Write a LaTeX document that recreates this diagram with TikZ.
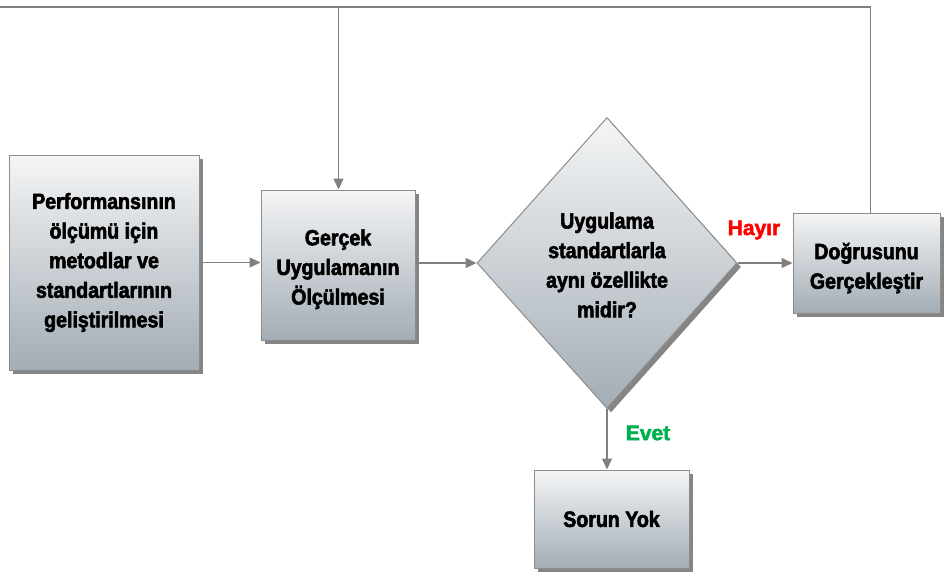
\documentclass[tikz,border=0pt]{standalone}
\usepackage{fontspec}
\setmainfont{Liberation Sans}[BoldFeatures={FakeBold=2.4}]
\newfontfamily\narrowfont{Liberation Sans}[BoldFeatures={FakeBold=2.6,FakeStretch=0.89}]
\usetikzlibrary{shapes.geometric,shadows,arrows.meta}
\definecolor{gtop}{HTML}{F4F5F6}
\definecolor{gbot}{HTML}{A3ADB5}
\definecolor{edge}{HTML}{8C8C8C}
\definecolor{arrc}{HTML}{808080}
\definecolor{hayir}{HTML}{FF0000}
\definecolor{evet}{HTML}{00B050}
\newcommand\lowered[2]{\raisebox{-#1}[\height][\depth]{\begin{tabular}{@{}c@{}}#2\end{tabular}}}
\tikzset{
  boxstyle/.style={draw=edge, line width=1pt, top color=gtop, bottom color=gbot,
    drop shadow={shadow xshift=4pt, shadow yshift=-4pt, fill=black!80, opacity=0.6},
    inner sep=0pt, align=center, font=\narrowfont\fontsize{22}{29.6}\selectfont\bfseries},
  diastyle/.style={shape=diamond, draw=edge, line width=1pt, top color=gtop, bottom color=gbot,
    drop shadow={shadow xshift=4pt, shadow yshift=-4pt, fill=black!80, opacity=0.6},
    inner sep=0pt, minimum width=260pt, minimum height=291pt},
  txt/.style={align=center, font=\narrowfont\fontsize{22}{29.6}\selectfont\bfseries},
  lbl/.style={font=\fontsize{21}{24}\selectfont\bfseries},
  arr/.style={draw=arrc, line width=1.5pt, -{Triangle[length=11pt,width=10pt]}, arrc}
}
\begin{document}
\begin{tikzpicture}[x=1pt,y=-1pt]
\useasboundingbox (0,0) rectangle (944,578);
\node[boxstyle, minimum width=190pt, minimum height=215pt] (p) at (104,262.5)
  {Performansının\\ölçümü için\\metodlar ve\\standartlarının\\geliştirilmesi};
\node[boxstyle, minimum width=154pt, minimum height=150pt] (m) at (338,265)
  {\lowered{4pt}{Gerçek\\Uygulamanın\\Ölçülmesi}};
\node[diastyle] (d) at (607,263) {};
\node[txt] (dt) at (607,265) {Uygulama\\standartlarla\\aynı özellikte\\midir?};
\node[boxstyle, minimum width=147pt, minimum height=100pt] (g) at (866.5,263)
  {\lowered{5pt}{Doğrusunu\\Gerçekleştir}};
\node[boxstyle, minimum width=155pt, minimum height=98pt] (s) at (611.5,519)
  {Sorun Yok};
\node[lbl, text=hayir] (h) at (754,230) {Hayır};
\node[lbl, text=evet] (e) at (648,433) {Evet};
\coordinate (top) at (0,7);
\draw[arr] (p.east) -- (p.east -| m.west);
\draw[arr] (d.west -| m.east) -- (d.west);
\draw[arr] (d.east) -- (d.east -| g.west);
\draw[arr] (d.south) -- (d.south |- s.north);
\draw[arr] ([xshift=78pt]g.north west) |- (top) -| ([xshift=78pt]m.north west);
\end{tikzpicture}
\end{document}
